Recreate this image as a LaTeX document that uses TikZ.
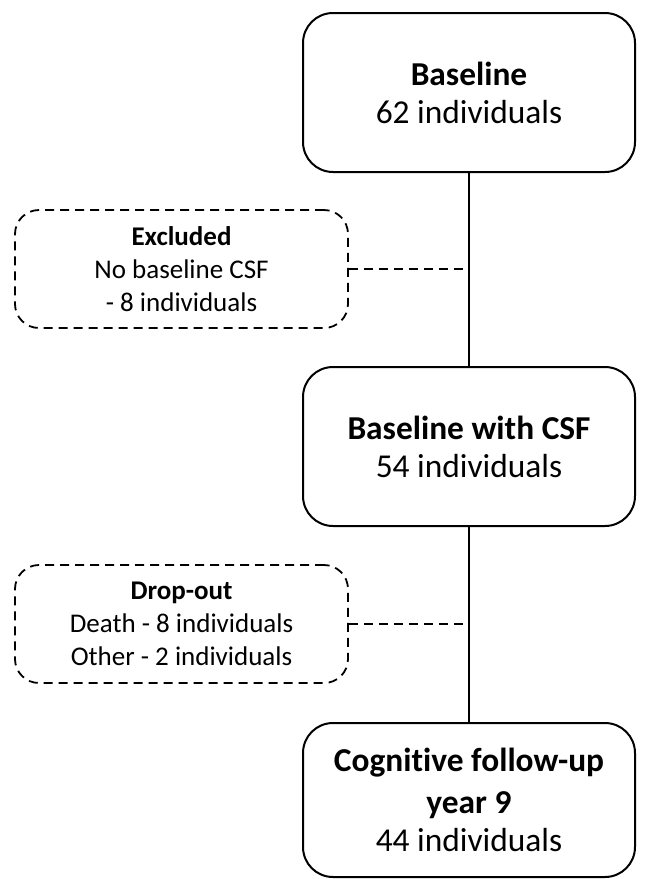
\documentclass[tikz,border=0pt]{standalone}
\usepackage{fontspec}
\setmainfont[Ligatures={NoCommon}]{Carlito}
\usetikzlibrary{calc}

\begin{document}
\begin{tikzpicture}[x=1pt,y=-1pt,
  stage/.style={draw,line width=2pt,rounded corners=30pt,minimum width=332pt,minimum height=159pt,align=center,font=\fontsize{33.4}{38}\selectfont},
  side/.style={draw,line width=1.8pt,dash pattern=on 9pt off 6pt,rounded corners=24pt,minimum width=333pt,minimum height=118pt,align=center,font=\fontsize{27}{33}\selectfont}]
\useasboundingbox (0,0) rectangle (645,879);
\node[stage] (base) at (469,92.5) {\textbf{Baseline}\\62 individuals};
\node[stage] (csf) at (469,446.5) {\textbf{Baseline with CSF}\\54 individuals};
\node[stage,minimum height=154pt] (year9) at (469,800) {\textbf{Cognitive follow-up}\\[4pt]\textbf{year 9}\\44 individuals};
\node[side] (excl) at (181.5,269) {\textbf{Excluded}\\No baseline CSF\\- 8 individuals};
\node[side] (drop) at (181.5,624) {\textbf{Drop-out}\\Death - 8 individuals\\Other - 2 individuals};
\coordinate (j1) at (469,269); \coordinate (j2) at (469,624);
\draw[line width=2pt] (base.south)--(csf.north);
\draw[line width=2pt] (csf.south)--(year9.north);
\draw[line width=1.8pt,dash pattern=on 9pt off 6pt] (excl.east)--(j1);
\draw[line width=1.8pt,dash pattern=on 9pt off 6pt] (drop.east)--(j2);
\end{tikzpicture}
\end{document}
